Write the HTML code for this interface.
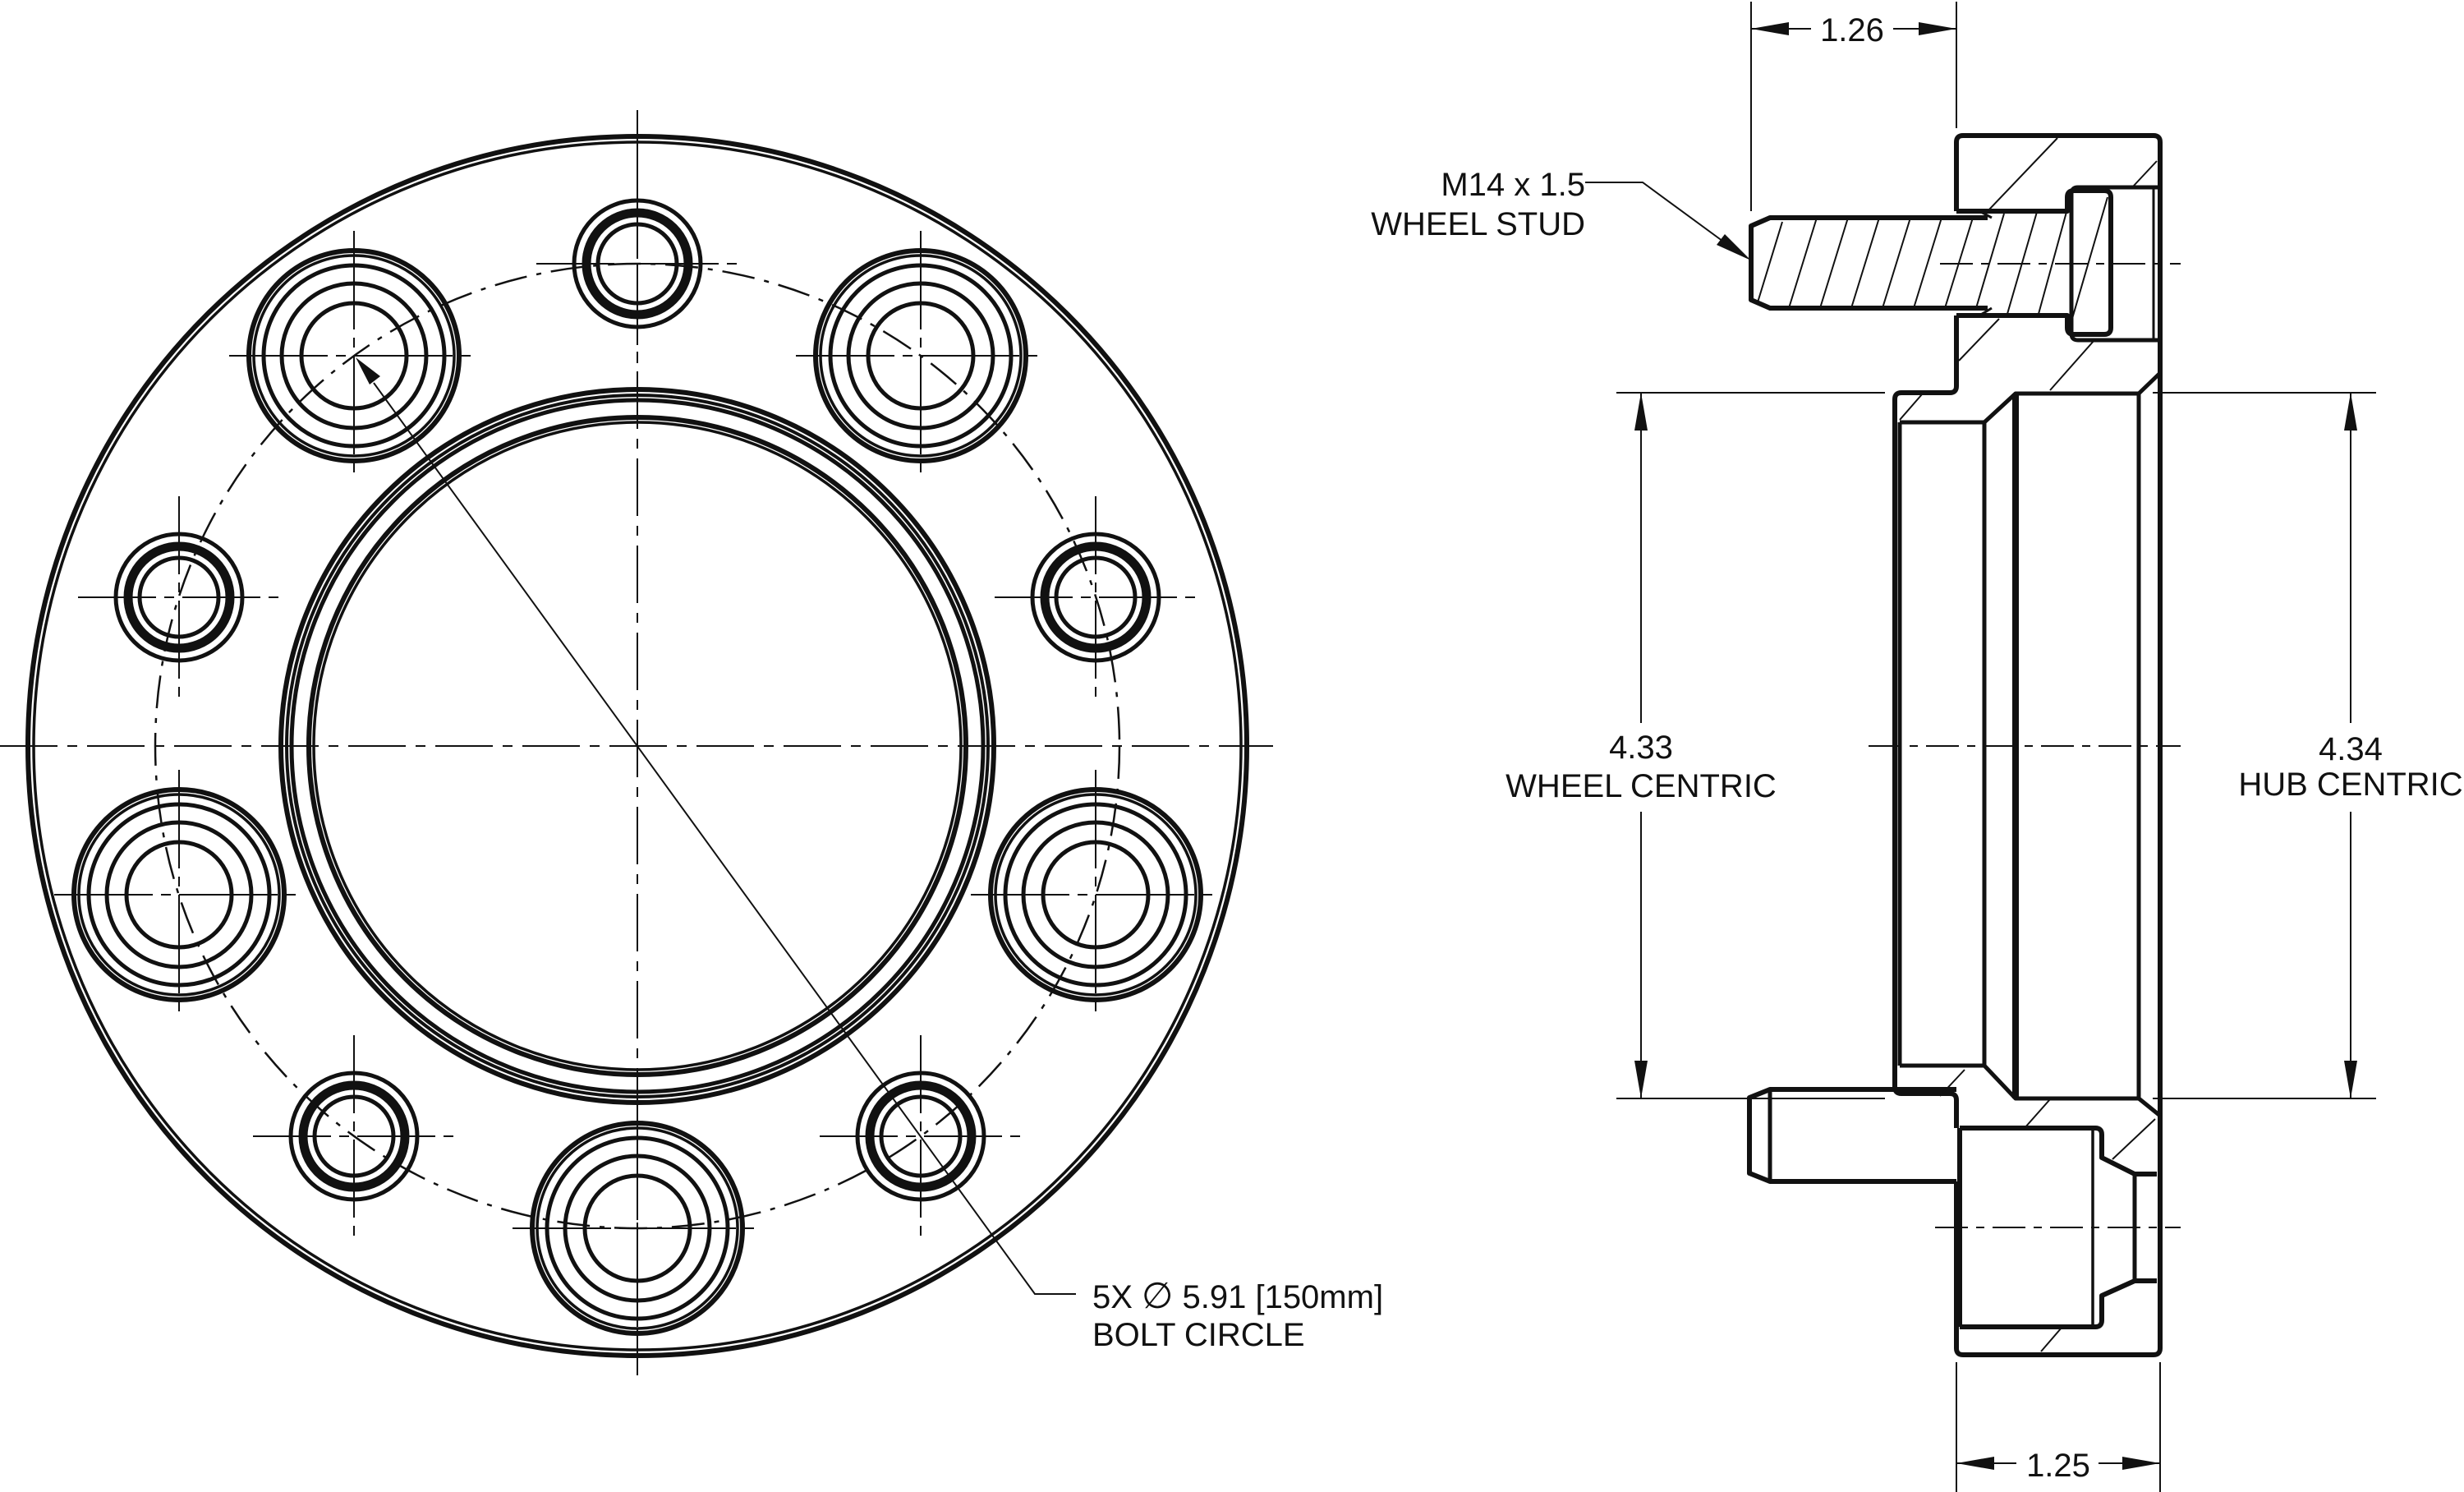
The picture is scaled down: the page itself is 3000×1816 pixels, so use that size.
<!DOCTYPE html>
<html><head><meta charset="utf-8"><style>
html,body{margin:0;padding:0;background:#fff}
svg{display:block}
text{font-family:"Liberation Sans",sans-serif;font-size:40px;fill:#111}
</style></head><body>
<svg width="3000" height="1816" viewBox="0 0 3000 1816" xmlns="http://www.w3.org/2000/svg">
<defs>
<g id="big" fill="none" stroke="#111">
<circle r="128" stroke-width="6"/><circle r="122" stroke-width="3.5"/>
<circle r="110" stroke-width="5"/><circle r="88" stroke-width="5"/><circle r="64" stroke-width="5"/>
<line x1="-152" y1="0" x2="152" y2="0" stroke-width="2" stroke-dasharray="120 10 12 10"/>
<line x1="0" y1="-152" x2="0" y2="152" stroke-width="2" stroke-dasharray="120 10 12 10"/>
</g>
<g id="sm" fill="none" stroke="#111">
<circle r="77" stroke-width="5"/><circle r="62" stroke-width="11"/><circle r="48" stroke-width="5"/>
<line x1="-123" y1="0" x2="123" y2="0" stroke-width="2" stroke-dasharray="95 10 12 10"/>
<line x1="0" y1="-123" x2="0" y2="123" stroke-width="2" stroke-dasharray="95 10 12 10"/>
</g>
</defs>
<rect width="3000" height="1816" fill="#fff"/>
<g fill="none" stroke="#111">
<circle cx="776" cy="908" r="742" stroke-width="6"/>
<circle cx="776" cy="908" r="735" stroke-width="3.5"/>
<circle cx="776" cy="908" r="434" stroke-width="6"/>
<circle cx="776" cy="908" r="427" stroke-width="4"/>
<circle cx="776" cy="908" r="421" stroke-width="5"/>
<circle cx="776" cy="908" r="400" stroke-width="6"/>
<circle cx="776" cy="908" r="394" stroke-width="3.5"/>
<circle cx="776" cy="908" r="587" stroke-width="2.5" stroke-dasharray="40 12 6 12"/>
<line x1="0" y1="908" x2="1550" y2="908" stroke-width="2" stroke-dasharray="70 12 12 12"/>
<line x1="776" y1="134" x2="776" y2="1674" stroke-width="2" stroke-dasharray="70 12 12 12"/>
</g>
<use href="#big" x="1121" y="433"/><use href="#big" x="1334" y="1089"/><use href="#big" x="776" y="1495"/>
<use href="#big" x="218" y="1089"/><use href="#big" x="431" y="433"/>
<use href="#sm" x="776" y="321"/><use href="#sm" x="1334" y="727"/><use href="#sm" x="1121" y="1383"/>
<use href="#sm" x="431" y="1383"/><use href="#sm" x="218" y="727"/>
<polyline points="455,466 1260,1575 1310,1575" fill="none" stroke="#111" stroke-width="2"/>
<polygon points="433,435 463,458 450,468" fill="#111"/>
<text x="1330" y="1592">5X <tspan font-family="DejaVu Sans" font-size="44">∅</tspan> 5.91 [150mm]</text>
<text x="1330" y="1638">BOLT CIRCLE</text>

<g fill="none" stroke="#111" stroke-width="6" stroke-linejoin="round">
<path d="M2382,257 L2382,173 Q2382,165 2390,165 L2622,165 Q2630,165 2630,173 L2630,1641 Q2630,1649 2622,1649 L2390,1649 Q2382,1649 2382,1641 L2382,1438"/>
<path d="M2382,384 L2382,470 Q2382,478 2374,478 L2315,478 Q2307,478 2307,486 L2307,1323 Q2307,1331 2315,1331 L2374,1331 Q2382,1331 2382,1339 L2382,1373"/>
<path d="M2313,514 L2313,1297" stroke-width="5"/>
<path d="M2313,514 L2416,514 L2454,479 L2604,479 L2630,454" stroke-width="5"/>
<path d="M2313,1297 L2416,1297 L2454,1337 L2604,1337 L2630,1358" stroke-width="5"/>
<path d="M2416,514 L2416,1297" stroke-width="5"/>
<path d="M2454,479 L2454,1337" stroke-width="8"/>
<path d="M2604,479 L2604,1337" stroke-width="5"/>
<path d="M2630,228 L2530,228 Q2522,228 2522,236 L2522,406 Q2522,414 2530,414 L2630,414" stroke-width="5"/>
<path d="M2622,228 L2622,414" stroke-width="3"/>
<path d="M2420,265 L2155,265 L2132,275 L2132,365 L2155,375 L2420,375" stroke-width="6"/>
<path d="M2382,257 L2517,257 L2517,240 Q2517,232 2525,232 L2562,232 Q2570,232 2570,240 L2570,399 Q2570,407 2562,407 L2525,407 Q2517,407 2517,399 L2517,384 L2382,384" stroke-width="6"/>
<path d="M2410,257 L2425,265 M2410,384 L2425,375" stroke-width="3"/>
<path d="M2382,1326 L2155,1326 L2130,1336 L2130,1428 L2155,1438 L2382,1438" stroke-width="6"/>
<path d="M2155,1326 L2155,1438" stroke-width="5"/>
<path d="M2386,1373 L2551,1373 Q2559,1373 2559,1381 L2559,1409 L2599,1429 L2626,1429 M2626,1559 L2599,1559 L2559,1577 L2559,1607 Q2559,1615 2551,1615 L2386,1615" stroke-width="6"/>
<path d="M2386,1373 L2386,1615" stroke-width="6"/>
<path d="M2548,1373 L2548,1615" stroke-width="3.5"/>
<path d="M2599,1429 L2599,1559" stroke-width="5"/>
</g>
<g stroke="#111" stroke-width="2" fill="none">
<path d="M2140,368 L2170,270 M2178,375 L2212,265 M2216,375 L2250,265 M2254,375 L2288,265 M2292,375 L2326,265 M2330,375 L2364,265 M2368,375 L2402,265 M2406,375 L2440,260 M2444,382 L2480,258 M2482,382 L2516,258 M2520,398 L2566,240"/>
<path d="M2420,257 L2505,168 M2597,227 L2626,196 M2385,439 L2434,388 M2496,475 L2550,414 M2313,511 L2340,480"/>
<path d="M2362,1334 L2392,1302 M2465,1373 L2496,1338 M2572,1411 L2624,1362 M2485,1645 L2510,1616"/>
</g>
<g stroke="#111" stroke-width="2" fill="none" stroke-dasharray="40 10 10 10">
<line x1="2362" y1="321" x2="2655" y2="321"/>
<line x1="2356" y1="1494" x2="2655" y2="1494"/>
<line x1="2275" y1="908" x2="2655" y2="908"/>
</g>
<g stroke="#111" stroke-width="2" fill="none">
<line x1="2132" y1="2" x2="2132" y2="257"/>
<line x1="2382" y1="2" x2="2382" y2="156"/>
<line x1="2132" y1="35" x2="2205" y2="35"/><line x1="2305" y1="35" x2="2382" y2="35"/>
<line x1="2382" y1="1658" x2="2382" y2="1816"/>
<line x1="2630" y1="1658" x2="2630" y2="1816"/>
<line x1="2382" y1="1781" x2="2455" y2="1781"/><line x1="2555" y1="1781" x2="2630" y2="1781"/>
<line x1="1968" y1="478" x2="2295" y2="478"/><line x1="1968" y1="1337" x2="2295" y2="1337"/>
<line x1="2621" y1="478" x2="2893" y2="478"/><line x1="2621" y1="1337" x2="2893" y2="1337"/>
<line x1="1998" y1="478" x2="1998" y2="880"/><line x1="1998" y1="988" x2="1998" y2="1337"/>
<line x1="2862" y1="478" x2="2862" y2="880"/><line x1="2862" y1="988" x2="2862" y2="1337"/>
<polyline points="1930,222 2000,222 2120,310"/>
</g>
<g fill="#111">
<polygon points="2132,35 2178,27 2178,43"/><polygon points="2382,35 2336,27 2336,43"/>
<polygon points="2382,1781 2428,1773 2428,1789"/><polygon points="2630,1781 2584,1773 2584,1789"/>
<polygon points="1998,478 1990,524 2006,524"/><polygon points="1998,1337 1990,1291 2006,1291"/>
<polygon points="2862,478 2854,524 2870,524"/><polygon points="2862,1337 2854,1291 2870,1291"/>
<polygon points="2132,317 2090,298 2100,285"/>
</g>
<text x="2255" y="50" text-anchor="middle">1.26</text>
<text x="2506" y="1797" text-anchor="middle">1.25</text>
<text x="1930" y="238" text-anchor="end">M14 x 1.5</text>
<text x="1930" y="286" text-anchor="end">WHEEL STUD</text>
<text x="1998" y="923" text-anchor="middle">4.33</text>
<text x="1998" y="970" text-anchor="middle">WHEEL CENTRIC</text>
<text x="2862" y="925" text-anchor="middle">4.34</text>
<text x="2862" y="968" text-anchor="middle">HUB CENTRIC</text>
</svg>
</body></html>
